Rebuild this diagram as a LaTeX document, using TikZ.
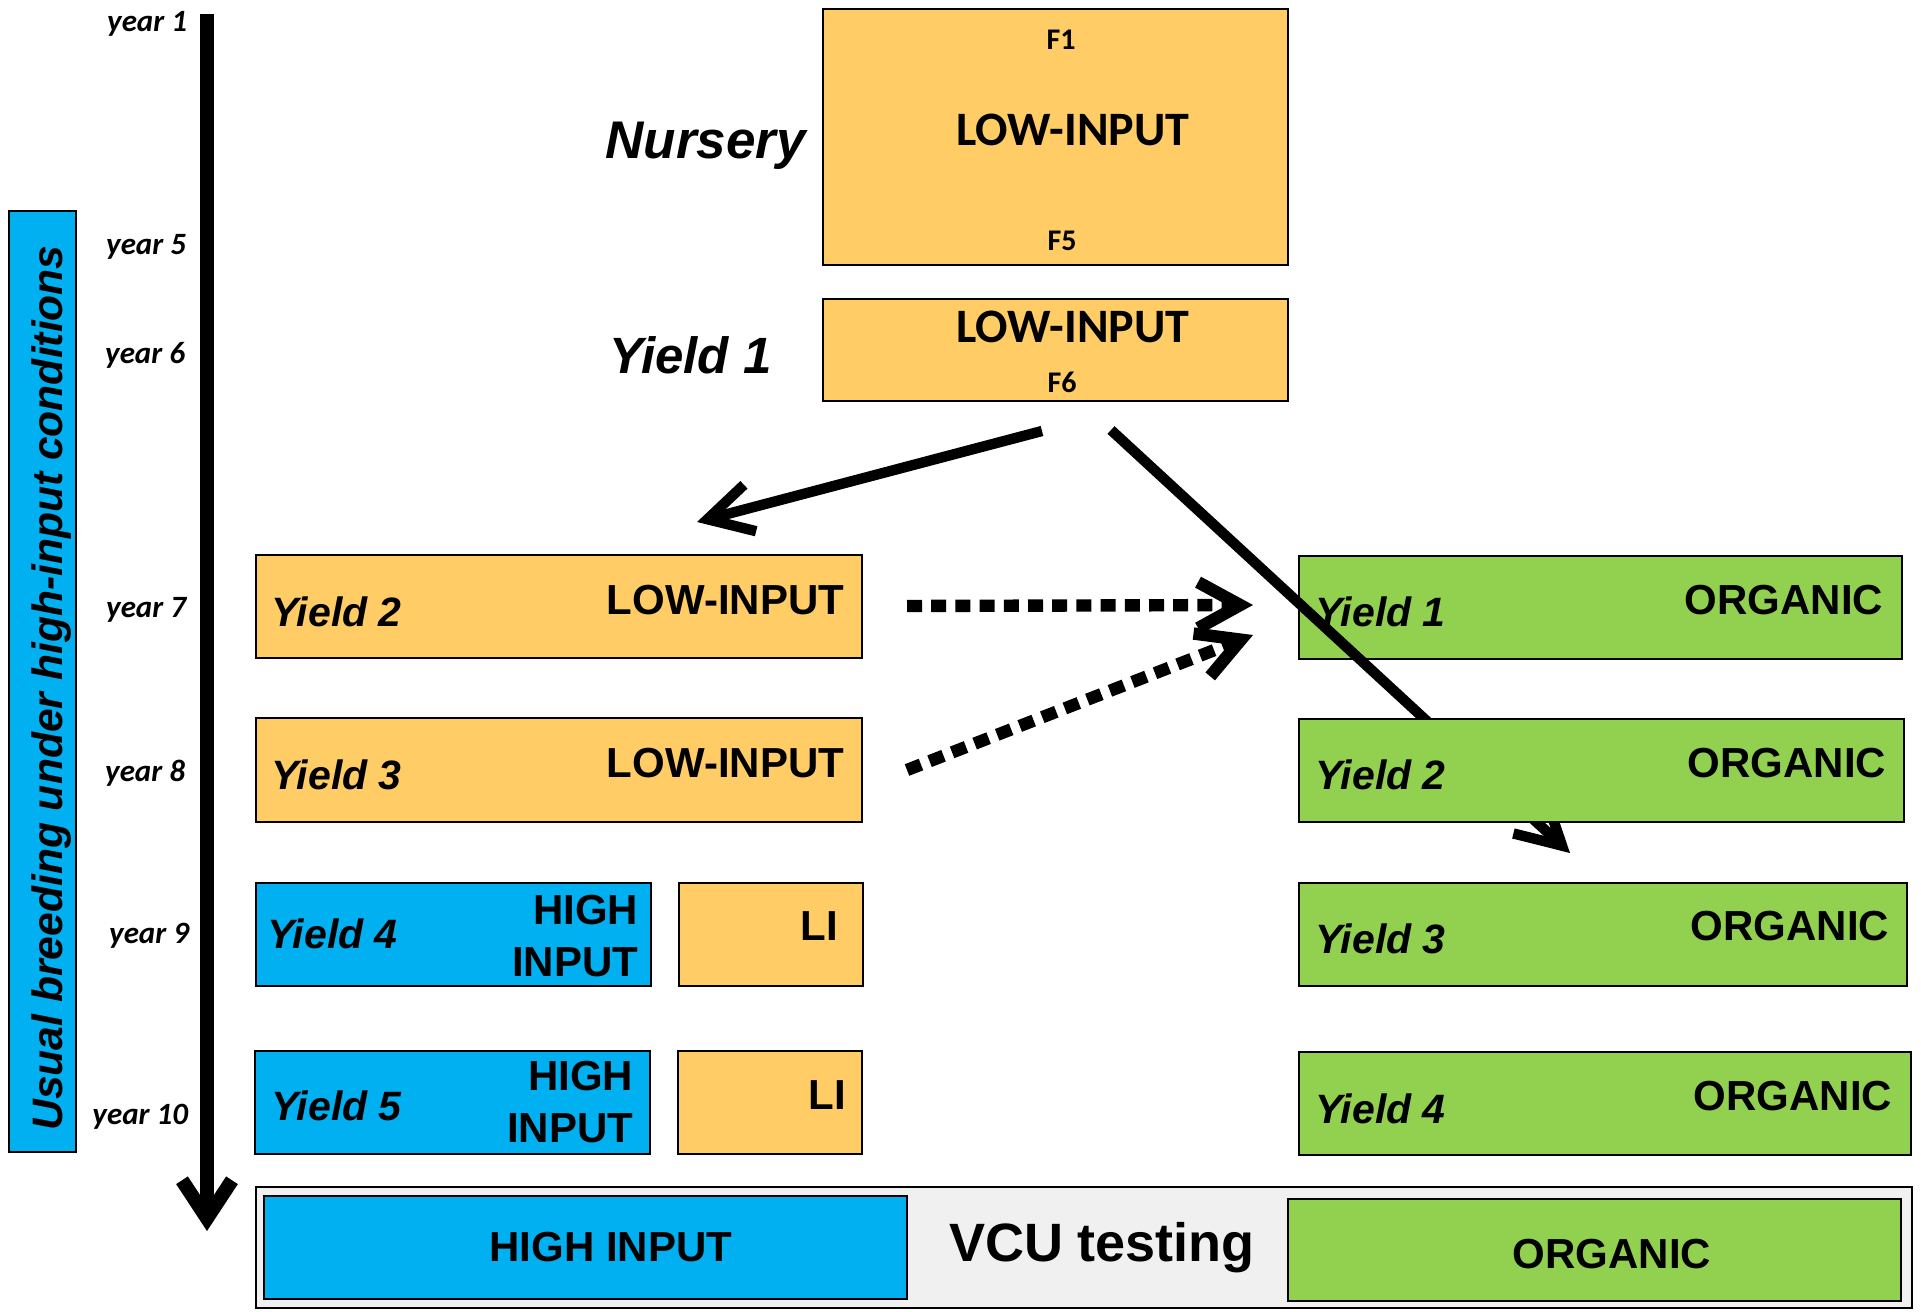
\documentclass[tikz,border=0pt]{standalone}
\usepackage{fontspec}
\setmainfont{Liberation Sans}
\newfontfamily\carl{Carlito}
\usetikzlibrary{arrows.meta,fit,calc}
\definecolor{orng}{RGB}{255,204,102}
\definecolor{hiblue}{RGB}{0,176,240}
\definecolor{orggreen}{RGB}{146,208,80}
\definecolor{vcugray}{RGB}{240,240,240}
\newcommand\szBox{\fontsize{21pt}{26pt}\selectfont\bfseries}
\newcommand\szYield{\fontsize{20.5pt}{24pt}\selectfont\bfseries\itshape}
\newcommand\szBig{\fontsize{25.5pt}{30pt}\selectfont\bfseries\itshape}
\newcommand\szCal{\carl\fontsize{24pt}{28pt}\selectfont\bfseries}
\newcommand\szF{\carl\fontsize{15pt}{18pt}\selectfont\bfseries}
\newcommand\szYear{\carl\fontsize{15.5pt}{18pt}\selectfont\bfseries\itshape}
\begin{document}
\begin{tikzpicture}[x=0.5pt,y=-0.5pt,
  box/.style={draw=black, line width=0.8pt, inner sep=0pt, outer sep=0pt},
  lbl/.style={inner sep=0pt, outer sep=0pt},
  arr/.style={line width=5.2pt, -{Straight Barb[length=22pt,width=24pt]}},
  dotarr/.style={line width=6.2pt, dash pattern=on 7.5pt off 4.6pt, -{Straight Barb[length=21pt,width=23pt]}},
  timearr/.style={line width=7pt, -{Straight Barb[length=19pt,width=25pt]}}
]
\useasboundingbox (0,0) rectangle (1921,1311);

% time axis
\coordinate (tTop) at (207,14);
\coordinate (tBot) at (207,1231);
\draw[timearr] (tTop) -- (tBot);

% side box
\node[box, fill=hiblue, fit={(9,211) (76,1152)}] (side) {};
\node[lbl, rotate=90, anchor=base, font=\fontsize{21.3pt}{25pt}\selectfont\bfseries\itshape] (sidetxt) at (62,688) {Usual breeding under high-input conditions};

% years
\node[lbl, anchor=base east, font=\szYear] (yr1) at (187,32) {year 1};
\node[lbl, anchor=base east, font=\szYear] (yr5) at (186,254) {year 5};
\node[lbl, anchor=base east, font=\szYear] (yr6) at (185,363) {year 6};
\node[lbl, anchor=base east, font=\szYear] (yr7) at (186,617) {year 7};
\node[lbl, anchor=base east, font=\szYear] (yr8) at (185,781) {year 8};
\node[lbl, anchor=base east, font=\szYear] (yr9) at (189,943) {year 9};
\node[lbl, anchor=base east, font=\szYear] (yr10) at (188,1124) {year 10};

% nursery and yield 1 low-input
\node[box, fill=orng, fit={(823,9) (1288,265)}] (nursery) {};
\node[lbl, anchor=base, font=\szF] (f1) at (1061,50) {F1};
\node[lbl, anchor=base, font=\szCal] (nurli) at (1073,146) {LOW-INPUT};
\node[lbl, anchor=base, font=\szF] (f5) at (1062,250) {F5};
\node[lbl, anchor=base east, font=\fontsize{26.5pt}{30pt}\selectfont\bfseries\itshape] (nurlab) at (806,158) {Nursery};

\node[box, fill=orng, fit={(823,299) (1288,401)}] (y1li) {};
\node[lbl, anchor=base, font=\szCal] (y1litxt) at (1073,342) {LOW-INPUT};
\node[lbl, anchor=base, font=\szF] (f6) at (1062,392) {F6};
\node[lbl, anchor=base west, font=\szBig] (y1lab) at (609,373) {Yield 1};

% low-input yields
\node[box, fill=orng, fit={(256,555) (862,658)}] (y2li) {};
\node[lbl, anchor=base west, font=\szYield] at (271,626) (y2lia) {Yield 2};
\node[lbl, anchor=base east, font=\szBox] at (844,614) (y2lib) {LOW-INPUT};

\node[box, fill=orng, fit={(256,718) (862,822)}] (y3li) {};
\node[lbl, anchor=base west, font=\szYield] at (271,789) (y3lia) {Yield 3};
\node[lbl, anchor=base east, font=\szBox] at (844,777) (y3lib) {LOW-INPUT};

% high-input yields
\node[box, fill=hiblue, fit={(256,883) (651,986)}] (y4hi) {};
\node[lbl, anchor=base west, font=\szYield] at (267,948) (y4hia) {Yield 4};
\node[lbl, anchor=south east, align=right, font=\szBox] at (638,977) (y4hib) {HIGH\\INPUT};
\node[box, fill=orng, fit={(679,883) (863,986)}] (y4li) {};
\node[lbl, anchor=base east, font=\szBox] at (838,940) (y4lit) {LI};

\node[box, fill=hiblue, fit={(255,1051) (650,1154)}] (y5hi) {};
\node[lbl, anchor=base west, font=\szYield] at (271,1120) (y5hia) {Yield 5};
\node[lbl, anchor=south east, align=right, font=\szBox] at (633,1143) (y5hib) {HIGH\\INPUT};
\node[box, fill=orng, fit={(678,1051) (862,1154)}] (y5li) {};
\node[lbl, anchor=base east, font=\szBox] at (846,1109) (y5lit) {LI};

% organic yields
\node[box, fill=orggreen, fit={(1299,556) (1902,659)}] (o1) {};
\node[lbl, anchor=base west, font=\szYield] at (1315,626) (o1a) {Yield 1};
\node[lbl, anchor=base east, font=\szBox] at (1883,614) (o1b) {ORGANIC};

% arrows from Yield 1 low-input
\coordinate (aS) at (1042,431);
\coordinate (aE) at (697,522);
\coordinate (bS) at (1111,430);
\coordinate (bE) at (1570,853);
\draw[arr] (aS) -- (aE);
\draw[arr] (bS) -- (bE);

\node[box, fill=orggreen, fit={(1299,719) (1904,822)}] (o2) {};
\node[lbl, anchor=base west, font=\szYield] at (1315,789) (o2a) {Yield 2};
\node[lbl, anchor=base east, font=\szBox] at (1886,777) (o2b) {ORGANIC};

\node[box, fill=orggreen, fit={(1299,883) (1907,986)}] (o3) {};
\node[lbl, anchor=base west, font=\szYield] at (1315,953) (o3a) {Yield 3};
\node[lbl, anchor=base east, font=\szBox] at (1889,940) (o3b) {ORGANIC};

\node[box, fill=orggreen, fit={(1299,1052) (1911,1155)}] (o4) {};
\node[lbl, anchor=base west, font=\szYield] at (1315,1123) (o4a) {Yield 4};
\node[lbl, anchor=base east, font=\szBox] at (1892,1110) (o4b) {ORGANIC};

% dotted arrows
\coordinate (d1S) at (907,606);
\coordinate (d1E) at (1253,605);
\coordinate (d2S) at (907,770);
\coordinate (d2E) at (1253,635);
\draw[dotarr] (d1S) -- (d1E);
\draw[dotarr] (d2S) -- (d2E);

% VCU testing
\node[box, fill=vcugray, fit={(256,1187) (1912,1308)}] (vcu) {};
\node[box, fill=hiblue, fit={(264,1196) (907,1299)}] (vcuhi) {};
\node[lbl, anchor=base, font=\szBox] at (611,1261) (vcuhit) {HIGH INPUT};
\node[lbl, anchor=base west, font=\fontsize{27pt}{31pt}\selectfont\bfseries] at (949,1261) (vcut) {VCU testing};
\node[box, fill=orggreen, fit={(1288,1199) (1901,1301)}] (vcuorg) {};
\node[lbl, anchor=base, font=\szBox] at (1612,1268) (vcuorgt) {ORGANIC};
\end{tikzpicture}
\end{document}
